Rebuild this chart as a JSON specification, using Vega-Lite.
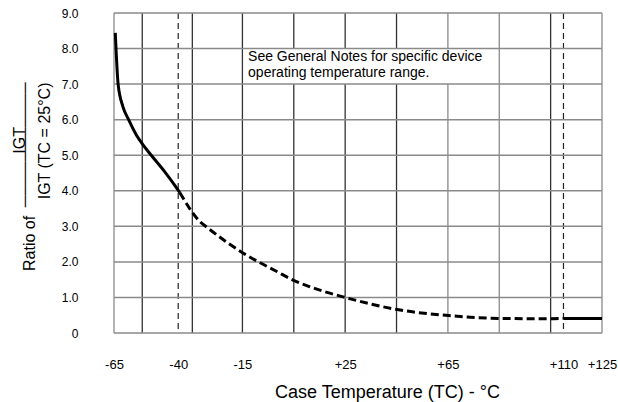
{
  "$schema": "https://vega.github.io/schema/vega-lite/v6.json",
  "width": 488,
  "height": 320,
  "autosize": {"type": "none"},
  "padding": {"left": 114, "top": 13, "right": 16, "bottom": 69},
  "background": "white",
  "config": {
    "view": {"stroke": null},
    "font": "Liberation Sans",
    "axis": {"labelOverlap": false, "labelBound": false, "labelFlush": false}
  },
  "datasets": {
    "vdark": [{"t": -54}, {"t": -34.5}, {"t": -15}, {"t": 5}, {"t": 25}, {"t": 45}, {"t": 105}],
    "vgray": [{"t": -65}, {"t": 65}, {"t": 85}, {"t": 125}],
    "vdash": [{"t": -40}, {"t": 110}],
    "hlines": [{"r": 0}, {"r": 1}, {"r": 2}, {"r": 3}, {"r": 4}, {"r": 5}, {"r": 6}, {"r": 7}, {"r": 8}, {"r": 9}],
    "box": [{"t": -14.5, "t2": 84, "r": 7, "r2": 8}],
    "solidLow": [
      {"t": -64.5, "r": 8.44}, {"t": -64.2, "r": 7.97}, {"t": -63.4, "r": 7.0}, {"t": -61.5, "r": 6.36},
      {"t": -59.3, "r": 6.0}, {"t": -56.3, "r": 5.57}, {"t": -53.7, "r": 5.29}, {"t": -50.5, "r": 5.0},
      {"t": -45.3, "r": 4.54}, {"t": -41.4, "r": 4.16}, {"t": -39.4, "r": 3.95}
    ],
    "dashed": [
      {"t": -39.4, "r": 3.95}, {"t": -31.5, "r": 3.13}, {"t": -28.4, "r": 2.95},
      {"t": -14.8, "r": 2.25}, {"t": -1.6, "r": 1.73}, {"t": 4.7, "r": 1.49}, {"t": 11.3, "r": 1.3},
      {"t": 25, "r": 1.0}, {"t": 45.3, "r": 0.66}, {"t": 65.2, "r": 0.49}, {"t": 85.3, "r": 0.41},
      {"t": 105, "r": 0.4}, {"t": 110, "r": 0.41}
    ],
    "solidHigh": [{"t": 110, "r": 0.41}, {"t": 125, "r": 0.41}],
    "note": [
      {"t": -12.8, "r": 7.76, "label": "See General Notes for specific device"},
      {"t": -12.8, "r": 7.31, "label": "operating temperature range."}
    ]
  },
  "layer": [
    {
      "data": {"name": "vdark"},
      "mark": {"type": "rule", "color": "#333333", "strokeWidth": 1.3},
      "encoding": {
        "x": {
          "field": "t", "type": "quantitative",
          "scale": {"domain": [-65, 125], "nice": false, "zero": false},
          "axis": {
            "values": [-65, -40, -15, 25, 65, 110, 125],
            "labelExpr": "datum.value > 0 ? '+' + datum.value : '' + datum.value",
            "domain": false, "grid": false, "ticks": false, "tickSize": 0,
            "labelPadding": 25, "labelFontSize": 13, "labelColor": "black", "labelFlush": false, "labelOverlap": false,
            "title": "Case Temperature (TC) - °C",
            "titleFontSize": 18, "titleFontWeight": "normal", "titleColor": "black",
            "titleX": 273, "titleY": 64, "titleBaseline": "alphabetic", "titleAlign": "center"
          }
        }
      }
    },
    {
      "data": {"name": "vgray"},
      "mark": {"type": "rule", "color": "#8a8a8a", "strokeWidth": 1.3},
      "encoding": {"x": {"field": "t", "type": "quantitative"}}
    },
    {
      "data": {"name": "vdash"},
      "mark": {"type": "rule", "color": "#222222", "strokeWidth": 1.2, "strokeDash": [6, 4]},
      "encoding": {"x": {"field": "t", "type": "quantitative"}}
    },
    {
      "data": {"name": "box"},
      "mark": {"type": "rect", "color": "white"},
      "encoding": {
        "x": {"field": "t", "type": "quantitative"},
        "x2": {"field": "t2"},
        "y": {"field": "r", "type": "quantitative"},
        "y2": {"field": "r2"}
      }
    },
    {
      "data": {"name": "hlines"},
      "mark": {"type": "rule", "color": "#8a8a8a", "strokeWidth": 1.5},
      "encoding": {"y": {"field": "r", "type": "quantitative"}}
    },
    {
      "data": {"name": "solidLow"},
      "mark": {"type": "line", "color": "black", "strokeWidth": 3, "interpolate": "monotone"},
      "encoding": {
        "x": {"field": "t", "type": "quantitative"},
        "y": {
          "field": "r", "type": "quantitative",
          "scale": {"domain": [0, 9], "nice": false, "zero": true},
          "axis": {
            "values": [0, 1, 2, 3, 4, 5, 6, 7, 8, 9],
            "tickCount": 10,
            "labelExpr": "datum.value == 0 ? '0' : format(datum.value, '.1f')",
            "domain": false, "grid": false, "ticks": false, "tickSize": 0,
            "labelPadding": 36, "labelFontSize": 12, "labelColor": "black", "labelFlush": false, "labelOverlap": false,
            "title": [
              "IGT\u00a0\u00a0\u00a0\u00a0\u00a0\u00a0\u00a0\u00a0\u00a0\u00a0\u200b",
              "───────────",
              "Ratio of\u00a0\u00a0\u00a0\u00a0\u00a0\u00a0\u00a0\u00a0\u00a0\u00a0\u00a0\u00a0\u00a0\u00a0\u00a0\u00a0\u00a0\u00a0\u00a0\u00a0\u00a0\u00a0\u00a0\u00a0\u00a0\u00a0\u00a0\u00a0\u00a0\u00a0\u200b",
              "\u200b",
              "\u200b",
              "IGT (TC = 25°C)"
            ],
            "titleFontSize": 16, "titleFontWeight": "normal", "titleColor": "black",
            "titleAngle": -90, "titleAlign": "right", "titleBaseline": "alphabetic",
            "titleX": -89.5, "titleY": 69, "titleLineHeight": 5
          }
        }
      }
    },
    {
      "data": {"name": "dashed"},
      "mark": {"type": "line", "color": "black", "strokeWidth": 3, "strokeDash": [8, 4], "interpolate": "monotone"},
      "encoding": {
        "x": {"field": "t", "type": "quantitative"},
        "y": {"field": "r", "type": "quantitative"}
      }
    },
    {
      "data": {"name": "solidHigh"},
      "mark": {"type": "line", "color": "black", "strokeWidth": 3},
      "encoding": {
        "x": {"field": "t", "type": "quantitative"},
        "y": {"field": "r", "type": "quantitative"}
      }
    },
    {
      "data": {"name": "note"},
      "mark": {"type": "text", "align": "left", "baseline": "middle", "fontSize": 14, "color": "black"},
      "encoding": {
        "x": {"field": "t", "type": "quantitative"},
        "y": {"field": "r", "type": "quantitative"},
        "text": {"field": "label"}
      }
    }
  ]
}
